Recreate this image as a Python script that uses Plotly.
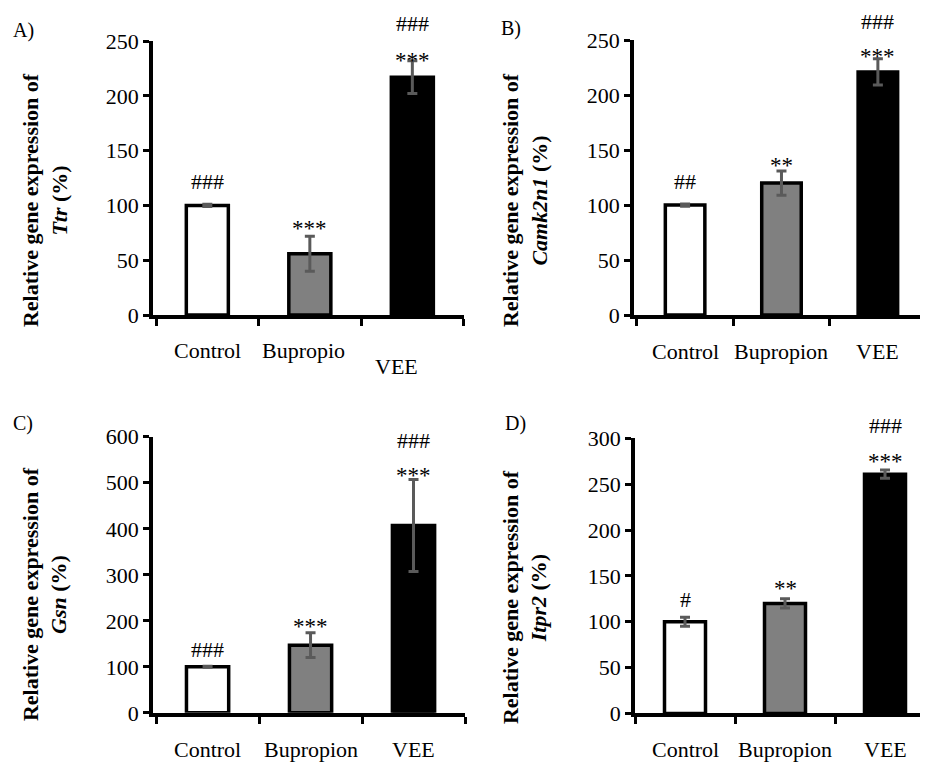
import plotly.graph_objects as go

# ---------------- data ----------------
categories = ["Control", "Bupropion", "VEE"]

ttr_mean = [100, 56, 217]
ttr_err = [1, 16, 15]
ttr_marks = [["###"], ["***"], ["***", "###"]]

camk_mean = [100, 120, 221]
camk_err = [1, 11, 12]
camk_marks = [["##"], ["**"], ["***", "###"]]

gsn_mean = [100, 147, 407]
gsn_err = [1, 27, 100]
gsn_marks = [["###"], ["***"], ["***", "###"]]

itpr_mean = [100, 120, 261]
itpr_err = [5, 5, 4.5]
itpr_marks = [["#"], ["**"], ["***", "###"]]

panel_letters = ["A)", "B)", "C)", "D)"]
genes = ["Ttr", "Camk2n1", "Gsn", "Itpr2"]
y_max = [250, 250, 600, 300]
y_step = [50, 50, 100, 50]
# panel A shows clipped category labels
tick_labels_A = ["Control", "Bupropio", "VEE"]

# ---------------- styling ----------------
FONT = "Liberation Serif"
FS = 22
bar_colors = ["#ffffff", "#808080", "#000000"]
err_color = "#5a5a5a"

W, H = 928, 762
OFFX = 8      # horizontal page offset of the plot div
OFFY = 20     # vertical page offset as captured
SY = 0.967    # vertical capture scale


def px(x):
    return (x - OFFX) / W


def py(y):
    return 1 - ((y - OFFY) / SY) / H


def sh(v):
    return v / SY


panels = [
    dict(mean=ttr_mean, err=ttr_err, marks=ttr_marks, labels=tick_labels_A,
         xdom=(153, 463.6), ydom=(41, 315), xr=(-0.53, 2.5),
         shifts=[[22], [7], [0, 36]], lab_dy=[34, 34, 50], lab_dx=[0, -6.5, -16],
         letter=(23, 30), title=(45, 200)),
    dict(mean=camk_mean, err=camk_err, marks=camk_marks, labels=categories,
         xdom=(634, 928), ydom=(40, 315), xr=(-0.53, 2.52),
         shifts=[[22], [5], [2, 36]], lab_dy=[35, 35, 35], lab_dx=[0, 0, 0],
         letter=(511, 28), title=(525, 200)),
    dict(mean=gsn_mean, err=gsn_err, marks=gsn_marks, labels=categories,
         xdom=(153, 465), ydom=(436.7, 712.7), xr=(-0.53, 2.5),
         shifts=[[16], [6], [4, 38]], lab_dy=[35, 35, 35], lab_dx=[0, 0, 0],
         letter=(23, 423), title=(45, 594)),
    dict(mean=itpr_mean, err=itpr_err, marks=itpr_marks, labels=categories,
         xdom=(635, 928), ydom=(438.3, 713.3), xr=(-0.5, 2.43),
         shifts=[[17], [10], [8, 43]], lab_dy=[35, 35, 35], lab_dx=[0, 0, 0],
         letter=(515, 423), title=(525, 597)),
]

fig = go.Figure()
annotations = []
layout = dict(
    width=W, height=H, margin=dict(l=0, r=0, t=0, b=0),
    paper_bgcolor="white", plot_bgcolor="white", showlegend=False,
    font=dict(family=FONT, size=FS, color="black"),
)

for i, p in enumerate(panels):
    xa = "x" if i == 0 else f"x{i+1}"
    ya = "y" if i == 0 else f"y{i+1}"
    xkey = "xaxis" if i == 0 else f"xaxis{i+1}"
    ykey = "yaxis" if i == 0 else f"yaxis{i+1}"

    fig.add_trace(go.Bar(
        x=categories, y=p["mean"], xaxis=xa, yaxis=ya, width=0.41,
        marker=dict(color=bar_colors, line=dict(color="black", width=3.5)),
        error_y=dict(type="data", array=p["err"], visible=True,
                     color=err_color, thickness=3, width=5),
        hoverinfo="skip",
    ))

    layout[xkey] = dict(
        domain=[max(px(p["xdom"][0]), 0), min(px(p["xdom"][1]), 1)], anchor=ya,
        type="category", categoryorder="array", categoryarray=categories,
        range=list(p["xr"]), showticklabels=False, tickson="boundaries",
        ticks="outside", ticklen=7, tickwidth=3, tickcolor="black",
        showline=True, linecolor="black", linewidth=3.5, showgrid=False,
        zeroline=False, fixedrange=True,
    )
    layout[ykey] = dict(
        domain=[max(py(p["ydom"][1]), 0), min(py(p["ydom"][0]), 1)], anchor=xa,
        range=[0, y_max[i]], dtick=y_step[i], tick0=0,
        ticks="outside", ticklen=6, tickwidth=3, tickcolor="black",
        showline=True, linecolor="black", linewidth=3.5, showgrid=False,
        zeroline=False, tickfont=dict(family=FONT, size=FS, color="black"),
        fixedrange=True,
    )

    # significance marks
    for j, cat in enumerate(categories):
        top = p["mean"][j] + p["err"][j]
        for k, mk in enumerate(p["marks"][j]):
            annotations.append(dict(
                x=cat, y=top, xref=xa, yref=ya, text=mk, showarrow=False,
                yanchor="middle", yshift=sh(p["shifts"][j][k]),
                font=dict(family=FONT, size=FS + (1 if "*" in mk else 0),
                          color="black"),
            ))

    # category labels
    for j, cat in enumerate(categories):
        annotations.append(dict(
            x=cat, y=0, xref=xa, yref=f"{ya} domain", text=p["labels"][j],
            showarrow=False, yanchor="middle", yshift=-sh(p["lab_dy"][j]),
            xshift=p["lab_dx"][j],
            font=dict(family=FONT, size=FS, color="black"),
        ))

    # panel letter
    annotations.append(dict(
        x=px(p["letter"][0]), y=py(p["letter"][1]), xref="paper", yref="paper",
        text=panel_letters[i], showarrow=False, xanchor="center", yanchor="middle",
        font=dict(family=FONT, size=20, color="black"),
    ))

    # y-axis title
    annotations.append(dict(
        x=px(p["title"][0]), y=py(p["title"][1]), xref="paper", yref="paper",
        text=f"<b>Relative gene expression of</b><br><b><i>{genes[i]}</i> (%)</b>",
        showarrow=False, textangle=-90, xanchor="center", yanchor="middle",
        font=dict(family=FONT, size=FS, color="black"),
    ))

layout["annotations"] = annotations
fig.update_layout(**layout)
fig.write_html("out.html")
